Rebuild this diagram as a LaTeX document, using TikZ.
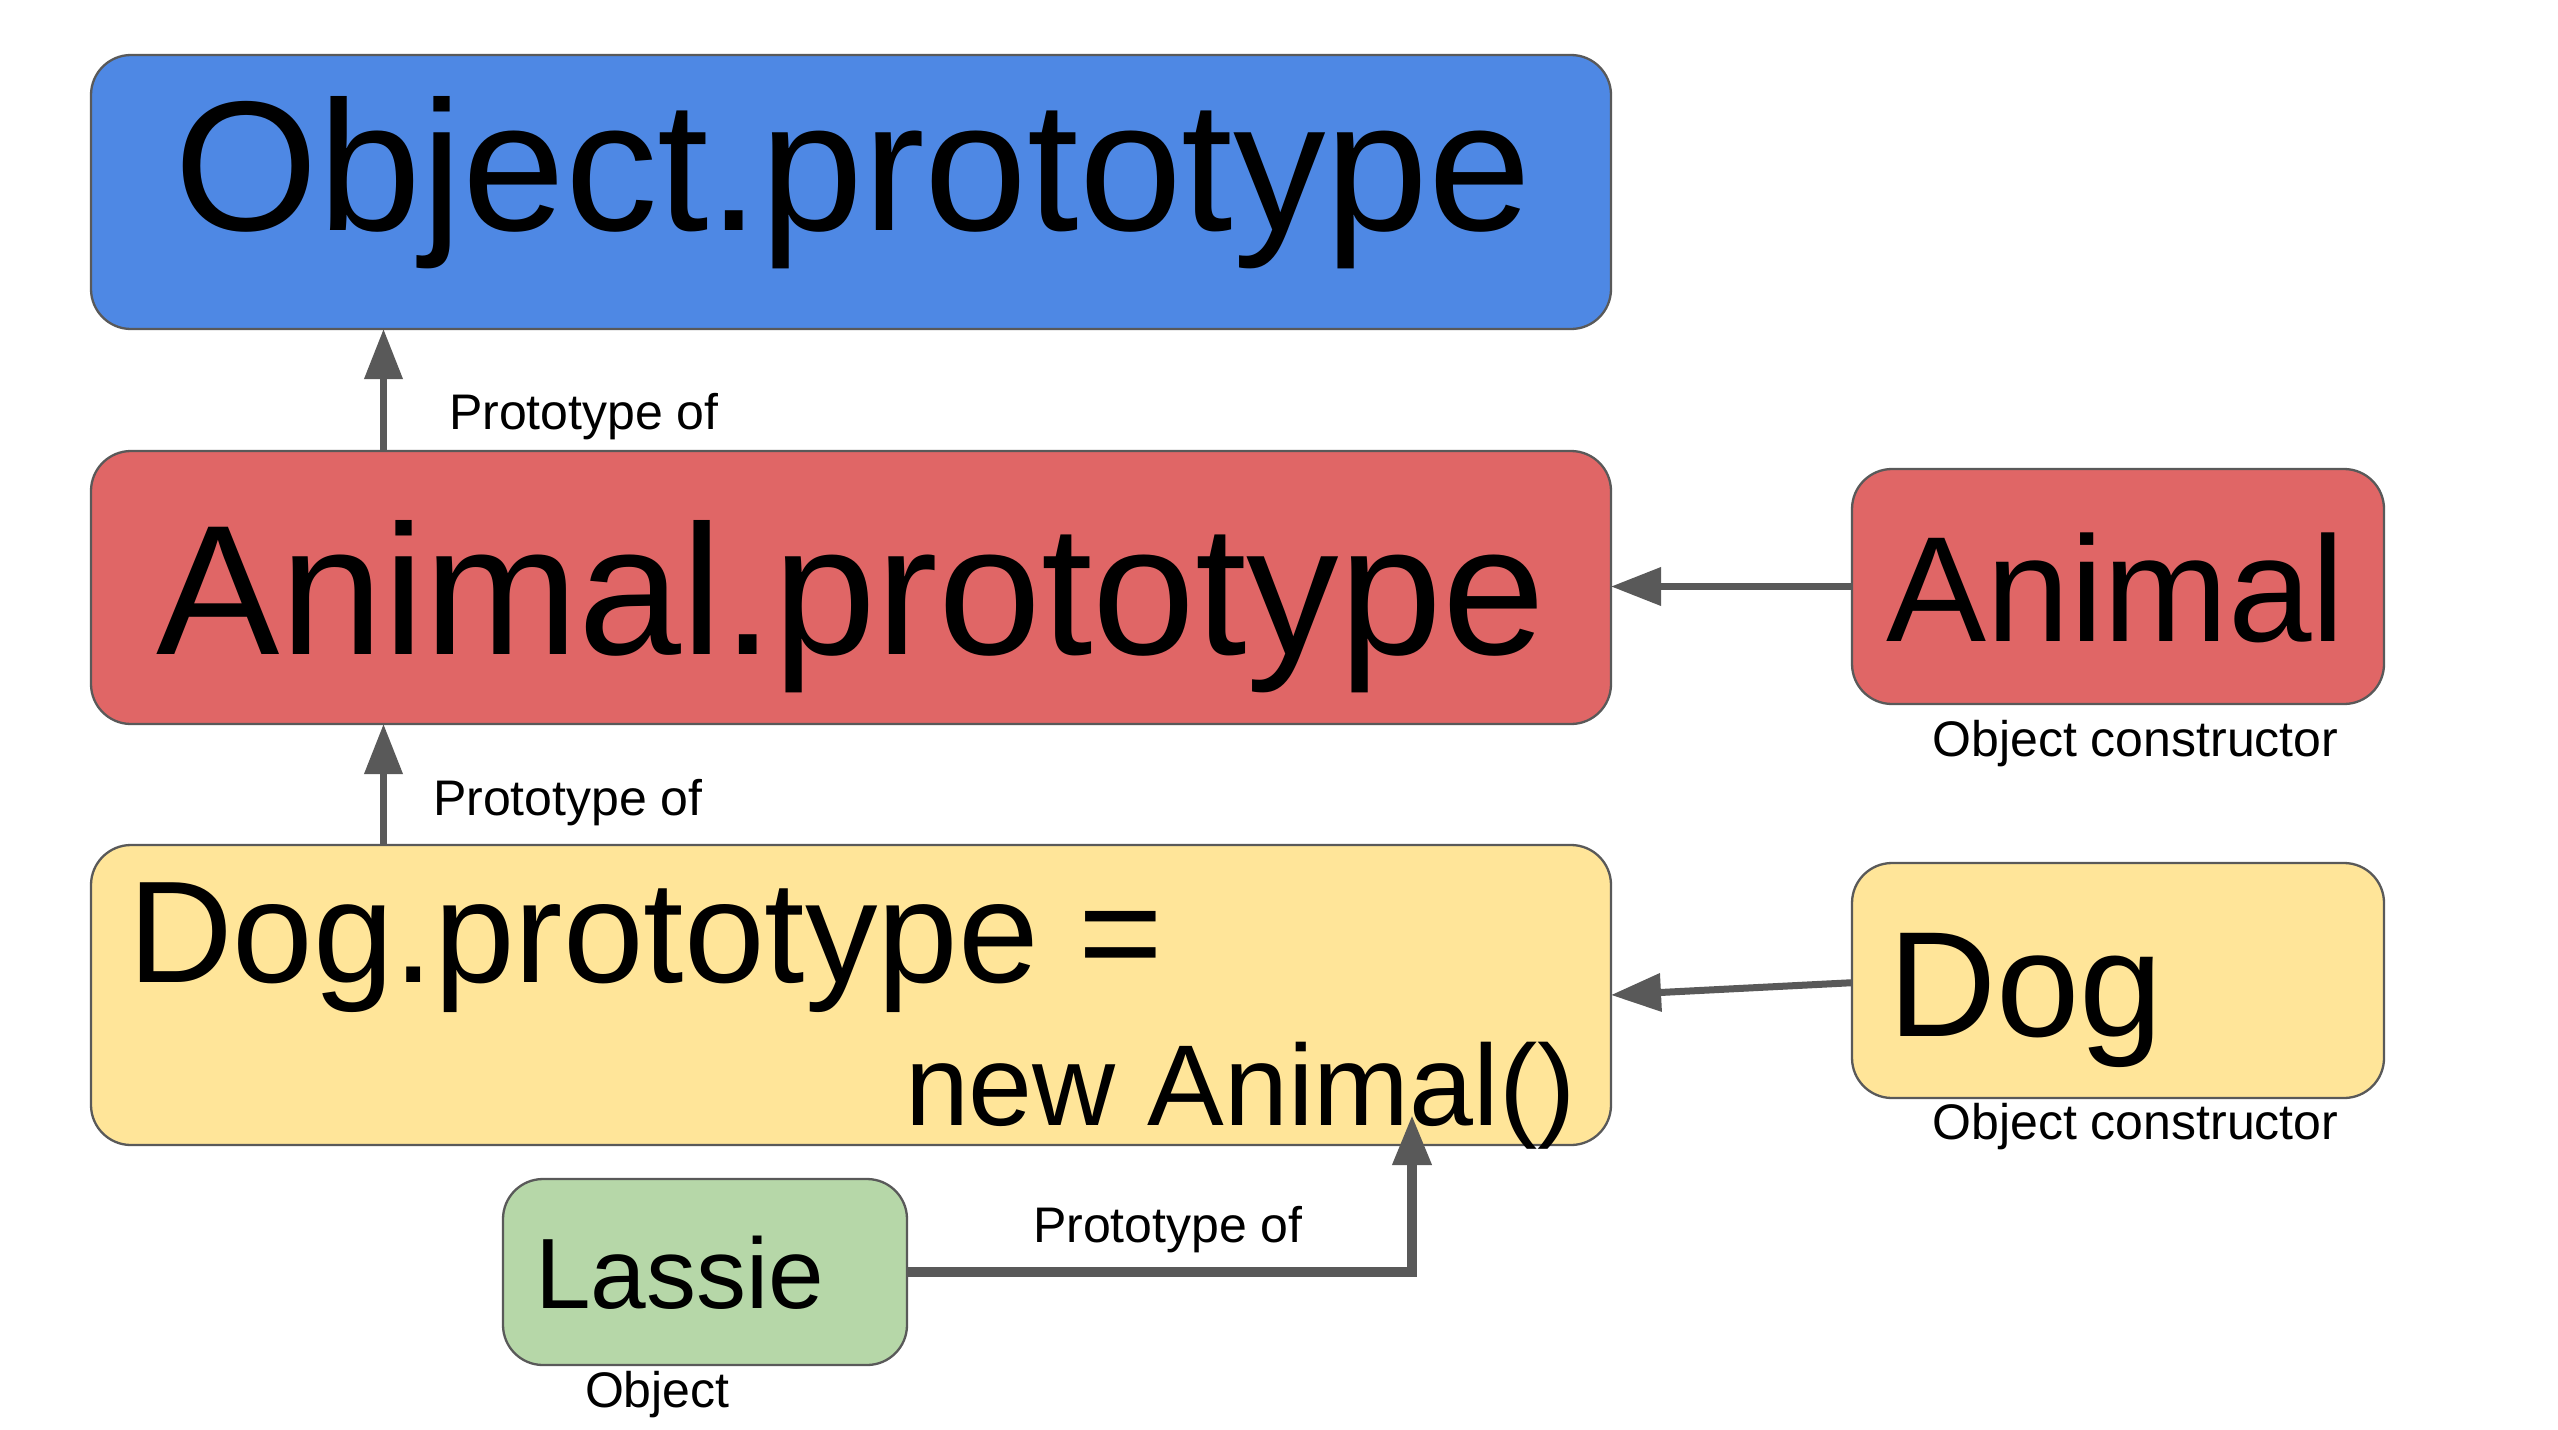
\documentclass[tikz,border=0pt]{standalone}
\usepackage{fontspec}
\setmainfont{Liberation Sans}
\usetikzlibrary{arrows.meta}
\definecolor{cblue}{HTML}{4E88E4}
\definecolor{cred}{HTML}{E06666}
\definecolor{cyellow}{HTML}{FFE599}
\definecolor{cgreen}{HTML}{B6D7A8}
\definecolor{cline}{HTML}{595959}
\newcommand\fsz[1]{\fontsize{#1}{#1}\selectfont}
\begin{document}
\begin{tikzpicture}[x=1pt,y=-1pt,
  pbox/.style={draw=cline, line width=2.3pt, rounded corners=40pt, inner sep=0pt, outer sep=0pt},
  txt/.style={inner sep=0pt, outer sep=0pt, anchor=base west},
  conn/.style={draw=cline, line width=7pt, -{Triangle[length=50pt,width=37pt]}},
  thickconn/.style={draw=cline, line width=10pt, -{Triangle[length=50pt,width=37pt]}}]
\useasboundingbox[fill=white] (0,0) rectangle (2558,1429);

% boxes
\node[pbox, fill=cblue, minimum width=1520pt, minimum height=274pt] (objp) at (851,192) {};
\node[pbox, fill=cred, minimum width=1520pt, minimum height=273pt] (animp) at (851,587.5) {};
\node[pbox, fill=cyellow, minimum width=1520pt, minimum height=300pt] (dogp) at (851,995) {};
\node[pbox, fill=cred, minimum width=532pt, minimum height=235pt] (animal) at (2118,586.5) {};
\node[pbox, fill=cyellow, minimum width=532pt, minimum height=235pt] (dog) at (2118,980.5) {};
\node[pbox, fill=cgreen, minimum width=404pt, minimum height=186pt] (lassie) at (705,1272) {};

% texts
\node[txt, anchor=base] (objt) at (853,230) {\fsz{185}Object.prototype};
\node[txt, anchor=base] (animpt) at (851,654.5) {\fsz{185}Animal.prototype};
\node[txt, anchor=base] (animalt) at (2116,641) {\fsz{150}Animal};
\node[txt] (dogt) at (1888,1036) {\fsz{150}Dog};
\node[txt] (dogpt1) at (128,982.7) {\fsz{145}Dog.prototype =};
\node[txt] (dogpt2) at (905,1125.5) {\fsz{115}new Animal()};
\node[txt] (lassiet) at (535,1308.6) {\fsz{100}Lassie};

\node[txt] (l1) at (449,429.6) {\fsz{50}Prototype of};
\node[txt] (l2) at (433,815) {\fsz{50}Prototype of};
\node[txt] (l3) at (1033,1242.4) {\fsz{50}Prototype of};
\node[txt] (oc1) at (1932.6,756) {\fsz{50}Object constructor};
\node[txt] (oc2) at (1932.6,1139) {\fsz{50}Object constructor};
\node[txt] (objl) at (585,1407.7) {\fsz{50}Object};

% connectors
\coordinate (c1) at (383.5,0);
\draw[conn] (c1 |- animp.north) -- (c1 |- objp.south);
\draw[conn] (c1 |- dogp.north) -- (c1 |- animp.south);
\draw[conn] (animal.west) -- (animal.west -| animp.east);
\coordinate (dogfrom) at (1852,982.7);
\draw[conn] (dogfrom) -- (dogp.east);
\coordinate (a5end) at (1412,1115);
\draw[thickconn] (lassie.east) -| (a5end);
\end{tikzpicture}
\end{document}
